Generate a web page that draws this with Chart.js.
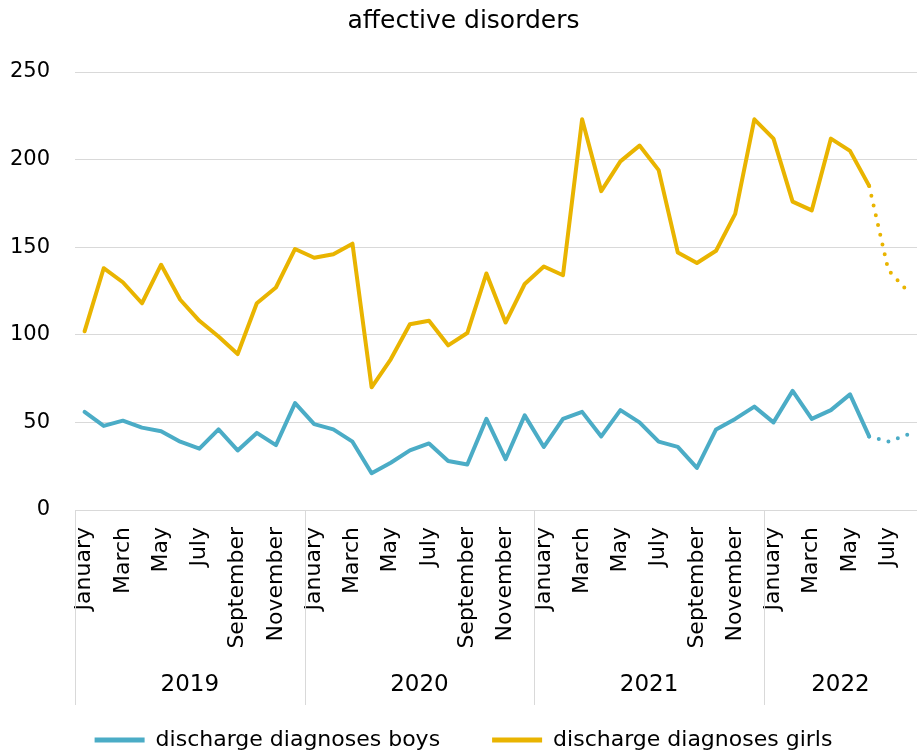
<!DOCTYPE html>
<html lang="en">
<head>
    <meta charset="UTF-8">
    <title>affective disorders</title>
    <script src="https://cdn.jsdelivr.net/npm/chart.js"></script>
    <style>
        body {
            margin: 0;
            background: #fff;
        }
        #wrap {
            width: 917px;
            height: 753px;
        }
    </style>
</head>
<body>

<div id="wrap"><canvas id="myChart"></canvas></div>

<script>
    // months Jan 2019 - Aug 2022
    const monthNames = ['January', 'February', 'March', 'April', 'May', 'June',
        'July', 'August', 'September', 'October', 'November', 'December'];
    const years = ['2019', '2020', '2021', '2022'];
    const monthsPerYear = [12, 12, 12, 8];

    const boys = [
        56, 48, 51, 47, 45, 39, 35, 46, 34, 44, 37, 61,
        49, 46, 39, 21, 27, 34, 38, 28, 26, 52, 29, 54,
        36, 52, 56, 42, 57, 50, 39, 36, 24, 46, 52, 59,
        50, 68, 52, 57, 66, 42, 39, 43
    ];
    const girls = [
        102, 138, 130, 118, 140, 120, 108, 99, 89, 118, 127, 149,
        144, 146, 152, 70, 86, 106, 108, 94, 101, 135, 107, 129,
        139, 134, 223, 182, 199, 208, 194, 147, 141, 148, 169, 223,
        212, 176, 171, 212, 205, 185, 137, 125
    ];
    const yTicks = [0, 50, 100, 150, 200, 250];

    // last months are provisional -> dotted
    const provisionalFrom = 41;

    const labels = [];
    monthsPerYear.forEach(n => {
        for (let i = 0; i < n; i++) labels.push(monthNames[i]);
    });

    const BLUE = '#4bacc6';
    const GOLD = '#e9b400';
    const GRID = '#d9d9d9';
    const FONT = "'DejaVu Sans', Verdana, sans-serif";
    const ROW = 195; // height of month + year rows under the axis

    const dotted = ctx => ctx.p0DataIndex >= provisionalFrom ? [0, 10] : undefined;

    // year row under the month labels
    const yearGroups = {
        id: 'yearGroups',
        afterDraw(chart) {
            const x = chart.scales.x;
            const c = chart.ctx;
            const half = (x.getPixelForValue(1) - x.getPixelForValue(0)) / 2;
            const top = x.top;
            const bottom = x.top + ROW;
            c.save();
            c.strokeStyle = GRID;
            c.lineWidth = 1;
            c.fillStyle = '#000';
            c.font = '23px ' + FONT;
            c.textAlign = 'center';
            c.textBaseline = 'middle';
            let start = 0;
            years.forEach((yr, i) => {
                const left = x.getPixelForValue(start) - half;
                const end = start + monthsPerYear[i] - 1;
                const right = Math.min(x.getPixelForValue(end) + half, x.right);
                c.beginPath();
                c.moveTo(Math.round(left) + 0.5, top);
                c.lineTo(Math.round(left) + 0.5, bottom);
                c.stroke();
                c.fillText(yr, (left + right) / 2, bottom - 20);
                start += monthsPerYear[i];
            });
            c.restore();
        }
    };

    const ctx = document.getElementById('myChart').getContext('2d');
    const myChart = new Chart(ctx, {
        type: 'line',
        data: {
            labels: labels,
            datasets: [{
                label: 'discharge diagnoses boys',
                data: boys,
                borderColor: BLUE,
                backgroundColor: BLUE,
                borderWidth: 4,
                borderCapStyle: 'round',
                borderJoinStyle: 'round',
                pointRadius: 0,
                tension: 0,
                segment: { borderDash: dotted }
            }, {
                label: 'discharge diagnoses girls',
                data: girls,
                borderColor: GOLD,
                backgroundColor: GOLD,
                borderWidth: 4,
                borderCapStyle: 'round',
                borderJoinStyle: 'round',
                pointRadius: 0,
                tension: 0,
                segment: { borderDash: dotted }
            }]
        },
        options: {
            responsive: true,
            maintainAspectRatio: false,
            animation: false,
            layout: {
                padding: { left: 10, right: 0, top: 0, bottom: -8 }
            },
            plugins: {
                title: {
                    display: true,
                    text: 'affective disorders',
                    color: '#000',
                    font: { family: FONT, size: 25, weight: 'normal' },
                    padding: { top: 6, bottom: 36 }
                },
                legend: {
                    position: 'bottom',
                    labels: {
                        color: '#000',
                        font: { family: FONT, size: 22 },
                        boxWidth: 50,
                        boxHeight: 5,
                        padding: 52,
                        generateLabels(chart) {
                            return chart.data.datasets.map((ds, i) => ({
                                text: ds.label,
                                fillStyle: ds.borderColor,
                                strokeStyle: ds.borderColor,
                                lineWidth: 0,
                                fontColor: '#000',
                                datasetIndex: i,
                                hidden: false
                            }));
                        }
                    }
                },
                tooltip: { enabled: false }
            },
            scales: {
                x: {
                    offset: true,
                    grid: { display: false, drawTicks: false },
                    border: { display: true, color: GRID, width: 1 },
                    ticks: {
                        autoSkip: false,
                        minRotation: 90,
                        maxRotation: 90,
                        padding: 17,
                        color: '#000',
                        font: { family: FONT, size: 22 },
                        callback: (v, i) => i % 2 === 0 ? labels[i] : ''
                    },
                    afterFit(scale) {
                        scale.height = 167;
                        scale.paddingLeft = 0;
                        scale.paddingRight = 0;
                    }
                },
                y: {
                    min: 0,
                    max: 250,
                    afterBuildTicks(scale) {
                        scale.ticks = yTicks.map(v => ({ value: v }));
                    },
                    grid: { color: GRID, lineWidth: 1, drawTicks: false },
                    border: { display: false },
                    ticks: {
                        padding: 25,
                        color: '#000',
                        font: { family: FONT, size: 21 }
                    },
                    afterFit(scale) {
                        scale.width = 65;
                    }
                }
            }
        },
        plugins: [yearGroups]
    });
</script>

</body>
</html>
